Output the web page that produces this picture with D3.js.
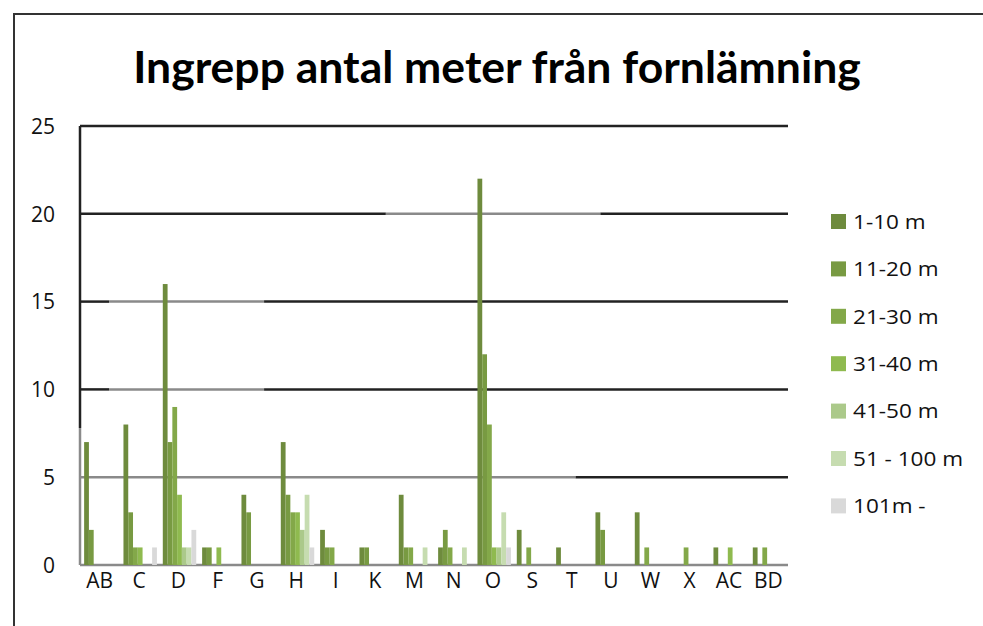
<!DOCTYPE html>
<html><head><meta charset="utf-8">
<script src="https://cdn.jsdelivr.net/npm/d3@7"></script>
<style>html,body{margin:0;padding:0;background:#fff;}svg{display:block;}</style>
</head><body>
<svg id="chart" width="983" height="626"></svg>
<script>
const categories = ["AB","C","D","F","G","H","I","K","M","N","O","S","T","U","W","X","AC","BD"];
const seriesNames = ["1-10 m","11-20 m","21-30 m","31-40 m","41-50 m","51 - 100 m","101m -"];
const s1_10   = [7, 8,16,1,4,7,2,1,4,1,22,2,1,3,3,0,1,1];
const s11_20  = [2, 3, 7,1,3,4,1,1,1,2,12,0,0,2,0,0,0,0];
const s21_30  = [0, 1, 9,0,0,3,1,0,1,1, 8,1,0,0,1,1,0,1];
const s31_40  = [0, 1, 4,1,0,3,0,0,0,0, 1,0,0,0,0,0,1,0];
const s41_50  = [0, 0, 1,0,0,2,0,0,0,0, 1,0,0,0,0,0,0,0];
const s51_100 = [0, 0, 1,0,0,4,0,0,1,1, 3,0,0,0,0,0,0,0];
const s101    = [0, 1, 2,0,0,1,0,0,0,0, 1,0,0,0,0,0,0,0];
const yTicks = [0,5,10,15,20,25];
const title = "Ingrepp antal meter från fornlämning";

const seriesValues = [s1_10,s11_20,s21_30,s31_40,s41_50,s51_100,s101];
const colors = ["#6e8b3d","#789a42","#83a849","#8fba4f","#abc98a","#c6dcb0","#d9d9d9"];

const svg = d3.select("#chart");
const plot = {left:80, right:788, top:126, bottom:565};

svg.append("rect").attr("x",14).attr("y",14).attr("width",1000).attr("height",700)
  .attr("fill","#fff").attr("stroke","#333").attr("stroke-width",2);

const x0 = d3.scaleBand().domain(categories).range([plot.left, plot.right]).padding(0);
const bw = x0.bandwidth();
const x1 = d3.scaleBand().domain(d3.range(seriesNames.length)).range([bw*0.105, bw*0.955]).padding(0);
const y = d3.scaleLinear().domain([0,25]).range([plot.bottom, plot.top]);

// gridlines (scan-like mixture of dark and grey segments)
const gridStyle = {
  25: [[0,1,"#222"]],
  20: [[0,0.432,"#222"],[0.432,0.735,"#8a8a8a"],[0.735,1,"#222"]],
  15: [[0,0.041,"#222"],[0.041,0.26,"#8a8a8a"],[0.26,1,"#222"]],
  10: [[0,0.041,"#222"],[0.041,0.26,"#8a8a8a"],[0.26,1,"#222"]],
  5:  [[0,0.7,"#8a8a8a"],[0.7,1,"#222"]],
  0:  [[0,1,"#8a8a8a"]]
};
const W = plot.right - plot.left;
yTicks.forEach(t => {
  gridStyle[t].forEach(seg => {
    svg.append("line")
      .attr("x1", plot.left + seg[0]*W).attr("x2", plot.left + seg[1]*W)
      .attr("y1", y(t)).attr("y2", y(t))
      .attr("stroke", seg[2]).attr("stroke-width", 2.5);
  });
});
// y axis line
svg.append("line").attr("x1",plot.left).attr("x2",plot.left).attr("y1",y(25)).attr("y2",y(7.8))
  .attr("stroke","#222").attr("stroke-width",2.5);
svg.append("line").attr("x1",plot.left).attr("x2",plot.left).attr("y1",y(7.8)).attr("y2",y(0))
  .attr("stroke","#8a8a8a").attr("stroke-width",2.5);

// bars
const groups = svg.append("g").selectAll("g").data(categories).join("g")
  .attr("transform", d => `translate(${x0(d)},0)`);
groups.selectAll("rect").data((c,i) => seriesValues.map((s,k)=>({k, v:s[i]})).filter(d=>d.v>0))
  .join("rect")
  .attr("x", d => x1(d.k)).attr("width", x1.bandwidth())
  .attr("y", d => y(d.v)).attr("height", d => y(0)-y(d.v))
  .attr("fill", d => colors[d.k]);

// y tick labels
const yAxis = d3.axisLeft(y).tickValues(yTicks).tickSize(0).tickPadding(0);
const yg = svg.append("g").attr("transform","translate(55,0)").call(yAxis);
yg.select(".domain").remove();
yg.selectAll("text").attr("font-family","Open Sans").attr("font-size",21).attr("fill","#111").attr("dy","0.35em");

// x labels
const xAxis = d3.axisBottom(x0).tickSize(0).tickPadding(0);
const xg = svg.append("g").attr("transform",`translate(0,${plot.bottom+7})`).call(xAxis);
xg.select(".domain").remove();
xg.selectAll("text").attr("font-family","Open Sans").attr("font-size",21).attr("fill","#111").attr("dy","0.75em");

// title
svg.append("text").attr("x",497).attr("y",83).attr("text-anchor","middle")
  .attr("font-family","Lato").attr("font-weight","bold").attr("font-size",44.5).attr("fill","#000")
  .text(title);

// legend
const leg = svg.append("g").selectAll("g").data(seriesNames).join("g")
  .attr("transform",(d,i)=>`translate(831,${221.5 + i*47.4})`);
leg.append("rect").attr("x",0).attr("y",-7.5).attr("width",15).attr("height",15).attr("fill",(d,i)=>colors[i]);
leg.append("text").attr("transform","translate(22,0) scale(1.1,1)").attr("dy","0.36em")
  .attr("font-family","Open Sans").attr("font-size",20.5).attr("fill","#111").text(d=>d);
</script>
</body></html>
